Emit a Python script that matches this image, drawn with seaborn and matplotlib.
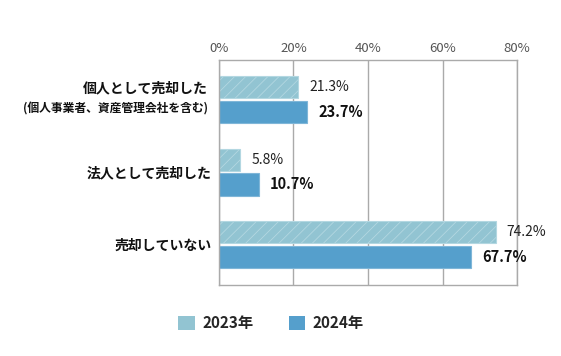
import pandas as pd
import matplotlib
matplotlib.use("Agg")
from matplotlib import pyplot as plt
from matplotlib.patches import Patch
from matplotlib.transforms import blended_transform_factory
import seaborn as sns

categories = ["個人として売却した", "法人として売却した", "売却していない"]
years = ["2023年", "2024年"]
values_2023 = [21.3, 5.8, 74.2]
values_2024 = [23.7, 10.7, 67.7]
sub_label = "(個人事業者、資産管理会社を含む)"
xticks = [0, 20, 40, 60, 80]

colors = {"2023年": "#92c4d2", "2024年": "#559fcc"}

df = pd.DataFrame({
    "category": categories * 2,
    "year": [years[0]] * 3 + [years[1]] * 3,
    "value": values_2023 + values_2024,
})

sns.set_style("white")
plt.rcParams["font.family"] = ["Noto Sans CJK JP", "DejaVu Sans"]
plt.rcParams["hatch.linewidth"] = 0.6

fig = plt.figure(figsize=(5.61, 3.56), dpi=100)
ax = fig.add_axes([0.390, 0.199, 0.532, 0.632])

sns.barplot(data=df, y="category", x="value", hue="year", orient="h",
            palette=colors, saturation=1, width=0.68, gap=0.1,
            legend=False, ax=ax)

# hatch + labels
for cont, yr in zip(ax.containers, years):
    for bar in cont:
        if yr == "2023年":
            bar.set_hatch("///")
            bar.set_edgecolor("#b3d7e1")
        else:
            bar.set_edgecolor("#7fb6d8")
        bar.set_linewidth(0.8)
    if yr == "2023年":
        ax.bar_label(cont, labels=[f"{v:.1f}%" for v in values_2023],
                     padding=8, fontsize=10, color="#222222")
    else:
        ax.bar_label(cont, labels=[f"{v:.1f}%" for v in values_2024],
                     padding=8, fontsize=10.5, fontweight="bold", color="#111111")

ax.set_xlim(0, 80)
ax.set_ylim(2.559, -0.545)
ax.set_xticks(xticks)
ax.set_xticklabels([f"{t}%" for t in xticks])
ax.xaxis.tick_top()
ax.tick_params(axis="x", length=0, pad=4, labelsize=9.5, labelcolor="#555555")
ax.tick_params(axis="y", length=0, pad=5)
ax.set_xlabel("")
ax.set_ylabel("")
ax.grid(axis="x", color="#aaaaaa", linewidth=1)
ax.set_axisbelow(True)
for s in ax.spines.values():
    s.set_color("#aaaaaa")
    s.set_linewidth(1)

ax.set_yticks([0, 1, 2])
ax.set_yticklabels(["", categories[1], categories[2]], fontsize=10,
                   fontweight="bold", color="#111111")

trans = blended_transform_factory(ax.transAxes, ax.transData)
ax.annotate(categories[0], xy=(0, 0), xycoords=trans, xytext=(-8, 8),
            textcoords="offset points", ha="right", va="center",
            fontsize=10, fontweight="bold", color="#111111")
ax.annotate(sub_label, xy=(0, 0), xycoords=trans, xytext=(-8, -6.5),
            textcoords="offset points", ha="right", va="center",
            fontsize=8.5, fontweight="bold", color="#111111")

handles = [Patch(facecolor=colors[y], edgecolor="none") for y in years]
fig.legend(handles, years, loc="center", bbox_to_anchor=(0.483, 0.092),
           ncol=2, frameon=False, handlelength=1.1, handleheight=1.1,
           columnspacing=2.3, handletextpad=0.5,
           prop={"size": 11, "weight": "bold"})

fig.savefig("out.png", dpi=100)
